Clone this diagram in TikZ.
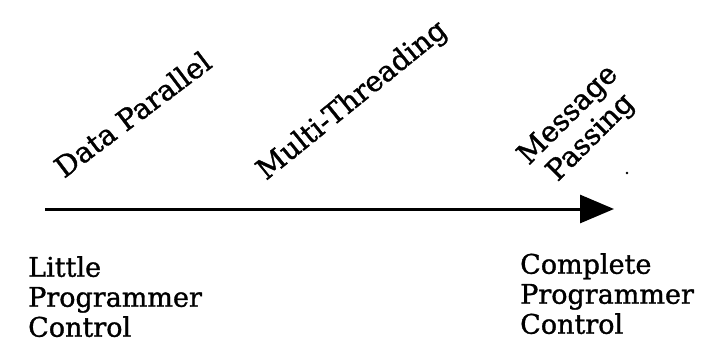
\documentclass[tikz,border=0pt]{standalone}
\usepackage{fontspec}
\setmainfont{DejaVu Serif}
\newfontfamily\heavyserif[FakeBold=1.2]{DejaVu Serif}
\usetikzlibrary{arrows.meta}
\begin{document}
\begin{tikzpicture}[x=1pt,y=1pt,
  lbl/.style={inner sep=0pt,font=\heavyserif\fontsize{27}{30}\selectfont},
  slanted/.style={inner sep=0pt,font=\heavyserif\fontsize{28.5}{32}\selectfont},
  cols/.style={lbl,align=left,anchor=north west},
  axis/.style={line width=3pt,-{Triangle[length=34pt,width=28pt]}}]
  \useasboundingbox (0,0) rectangle (717,360);
  % the scale from little to complete programmer control
  \coordinate (start) at (45,151);
  \coordinate (stop) at (614,151);
  \draw[axis] (start) -- (stop);
  \fill (627,187) circle (1.3);
  % programming models along the scale
  \node[slanted,anchor=base west,rotate=37] (dp) at (64,181) {Data Parallel};
  \node[slanted,anchor=base west,rotate=39] (mt) at (266,179) {Multi-Threading};
  \node[slanted,align=center,rotate=45] (mp) at (580,233) {Message\\Passing};
  % end labels
  \node[cols] (little) at (28,104) {Little\\Programmer\\Control};
  \node[cols] (complete) at (520,107) {Complete\\Programmer\\Control};
\end{tikzpicture}
\end{document}
